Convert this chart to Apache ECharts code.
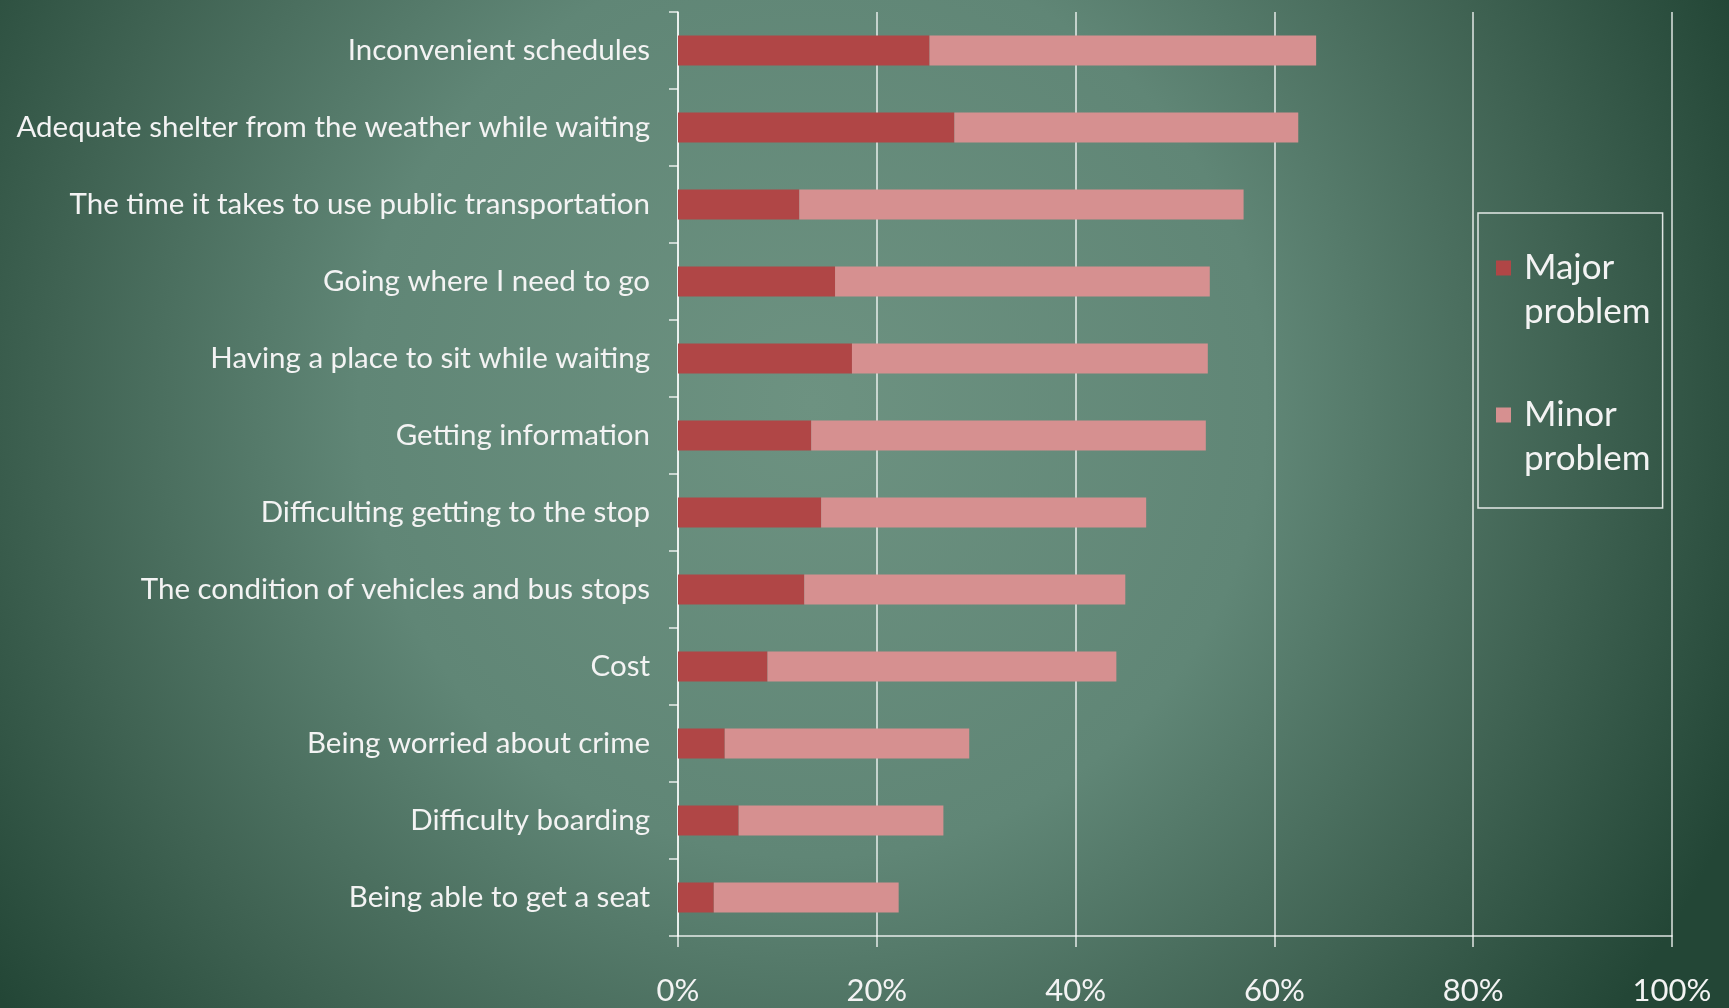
<!DOCTYPE html>
<html>
<head>
<meta charset="utf-8">
<title>Transit problems</title>
<script src="https://cdn.jsdelivr.net/npm/echarts@6/dist/echarts.min.js"></script>
<style>
  html, body { margin: 0; padding: 0; width: 100%; height: 100%; overflow: hidden; }
  #chart { width: 1729px; height: 1008px; }
</style>
</head>
<body>
<div id="chart"></div>
<script>
// Problems reported with public transportation, top to bottom
const categories = [
  'Inconvenient schedules',
  'Adequate shelter from the weather while waiting',
  'The time it takes to use public transportation',
  'Going where I need to go',
  'Having a place to sit while waiting',
  'Getting information',
  'Difficulting getting to the stop',
  'The condition of vehicles and bus stops',
  'Cost',
  'Being worried about crime',
  'Difficulty boarding',
  'Being able to get a seat'
];

// Share of respondents (%)
const majorProblem = [25.3, 27.8, 12.2, 15.8, 17.5, 13.4, 14.4, 12.7, 9.0, 4.7, 6.1, 3.6];
const minorProblem = [38.9, 34.6, 44.7, 37.7, 35.8, 39.7, 32.7, 32.3, 35.1, 24.6, 20.6, 18.6];

const seriesNames = ['Major problem', 'Minor problem'];
const xTicks = { min: 0, max: 100, interval: 20 };

const FONT = 'Lato, "Open Sans", sans-serif';
const LINE = 'rgba(255,255,255,0.85)';

const chart = echarts.init(document.getElementById('chart'), null, { renderer: 'canvas' });

chart.setOption({
  backgroundColor: {
    type: 'radial', x: 0.47, y: 0.4, r: 1.0,
    colorStops: [
      { offset: 0, color: '#6d9281' },
      { offset: 0.45, color: '#608676' },
      { offset: 0.75, color: '#406353' },
      { offset: 1, color: '#234636' }
    ]
  },
  animation: false,
  grid: { left: 678, right: 57, top: 12, bottom: 72, containLabel: false },
  legend: {
    orient: 'vertical',
    left: 1478,
    top: 213,
    padding: [33, 12, 27, 18],
    itemGap: 59,
    itemWidth: 23,
    itemHeight: 88,
    borderColor: LINE,
    borderWidth: 1.5,
    borderRadius: 0,
    selectedMode: false,
    // square sits on the first text line; the extra points only widen the icon box
    icon: 'path://M0,0 M23,88 M0,14.5h15v15h-15z',
    formatter: name => name.replace(' ', '\n'),
    textStyle: { color: '#f3f3f3', fontSize: 35, lineHeight: 44, fontFamily: FONT },
    data: seriesNames
  },
  xAxis: {
    type: 'value',
    min: xTicks.min,
    max: xTicks.max,
    interval: xTicks.interval,
    axisLine: { show: true, lineStyle: { color: LINE, width: 1.5 } },
    axisTick: { show: true, length: 11, lineStyle: { color: LINE, width: 1.5 } },
    splitLine: { show: true, lineStyle: { color: LINE, width: 1.5 } },
    axisLabel: {
      formatter: '{value}%',
      color: '#f3f3f3',
      fontSize: 31,
      fontFamily: FONT,
      margin: 39
    }
  },
  yAxis: {
    type: 'category',
    inverse: true,
    data: categories,
    axisLine: { show: true, lineStyle: { color: LINE, width: 1.5 } },
    axisTick: { show: true, length: 9, lineStyle: { color: LINE, width: 1.5 } },
    axisLabel: {
      color: '#f3f3f3',
      fontSize: 29.5,
      fontFamily: FONT,
      margin: 28
    }
  },
  series: [
    {
      name: seriesNames[0],
      type: 'bar',
      stack: 'total',
      barWidth: 30,
      itemStyle: { color: '#b04646' },
      data: majorProblem
    },
    {
      name: seriesNames[1],
      type: 'bar',
      stack: 'total',
      barWidth: 30,
      itemStyle: { color: '#d69090' },
      data: minorProblem
    }
  ]
});
</script>
</body>
</html>
